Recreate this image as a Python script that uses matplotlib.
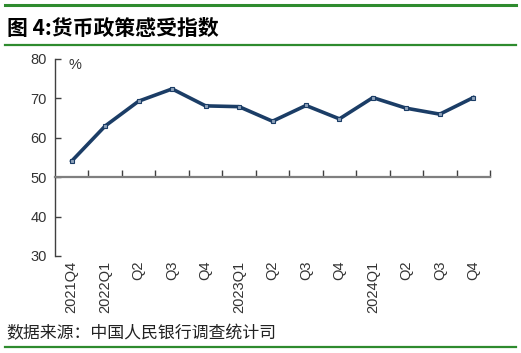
import matplotlib.pyplot as plt
from matplotlib.lines import Line2D

plt.rcParams['font.family'] = ['Noto Sans CJK SC', 'DejaVu Sans']

# quarterly index values (%)
quarters = ['2021Q4', '2022Q1', 'Q2', 'Q3', 'Q4', '2023Q1', 'Q2', 'Q3', 'Q4',
            '2024Q1', 'Q2', 'Q3', 'Q4']
index_values = [54.1, 63.0, 69.3, 72.4, 68.1, 67.9, 64.2, 68.2, 64.8,
                70.2, 67.5, 66.0, 70.2]
y_ticks = [30, 40, 50, 60, 70, 80]

fig = plt.figure(figsize=(5.21, 3.53), dpi=100)
ax = fig.add_axes([0.1056, 0.2748, 0.8349, 0.5581])

x = list(range(len(quarters)))
ax.plot(x, index_values, color='#1b3d66', linewidth=2.6, marker='s',
        markersize=3.5, markerfacecolor='#8fa3bb', markeredgecolor='#1b3d66',
        markeredgewidth=0.8, zorder=3)

ax.set_xlim(-0.5, len(quarters) - 0.5)
ax.set_ylim(30, 80)
ax.set_yticks(y_ticks)

for s in ['top', 'right']:
    ax.spines[s].set_visible(False)
ax.spines['left'].set_color('#404040')
ax.spines['left'].set_linewidth(1.0)
ax.spines['bottom'].set_position(('data', 50))
ax.spines['bottom'].set_color('#7f7f7f')
ax.spines['bottom'].set_linewidth(1.6)

# category boundary ticks on the axis at 50
ax.set_xticks([i + 0.5 for i in x])
ax.tick_params(axis='x', direction='in', length=5, width=1.0, color='#404040',
               labelbottom=False)
ax.tick_params(axis='y', direction='in', length=4, width=1.0, color='#404040',
               labelsize=10.5, labelcolor='#333333', pad=6)
for lab in ax.get_yticklabels():
    lab.set_family(['Liberation Sans', 'DejaVu Sans'])

# quarter labels below the plot area
for i, q in enumerate(quarters):
    ax.text(i, -0.025, q, transform=ax.get_xaxis_transform(), rotation=90,
            ha='center', va='top', fontsize=10.5, color='#333333',
            family=['Liberation Sans', 'DejaVu Sans'])

ax.text(0.03, 0.97, '%', transform=ax.transAxes, fontsize=10.5, color='#333333',
        ha='left', va='center', family=['Liberation Sans', 'DejaVu Sans'])

# title, source and green rules
fig.text(0.013, 0.92, '图 4:货币政策感受指数', fontsize=15, fontweight='bold',
         color='#000000', ha='left', va='center')
fig.text(0.013, 0.055, '数据来源：中国人民银行调查统计司', fontsize=12.2,
         color='#222222', ha='left', va='center')
for yy, lw in [(0.986, 2.2), (0.873, 1.6), (0.017, 1.6)]:
    fig.add_artist(Line2D([0.01, 0.99], [yy, yy], color='#2e8b2e', linewidth=lw,
                          transform=fig.transFigure))

fig.savefig('out.png', dpi=100)
